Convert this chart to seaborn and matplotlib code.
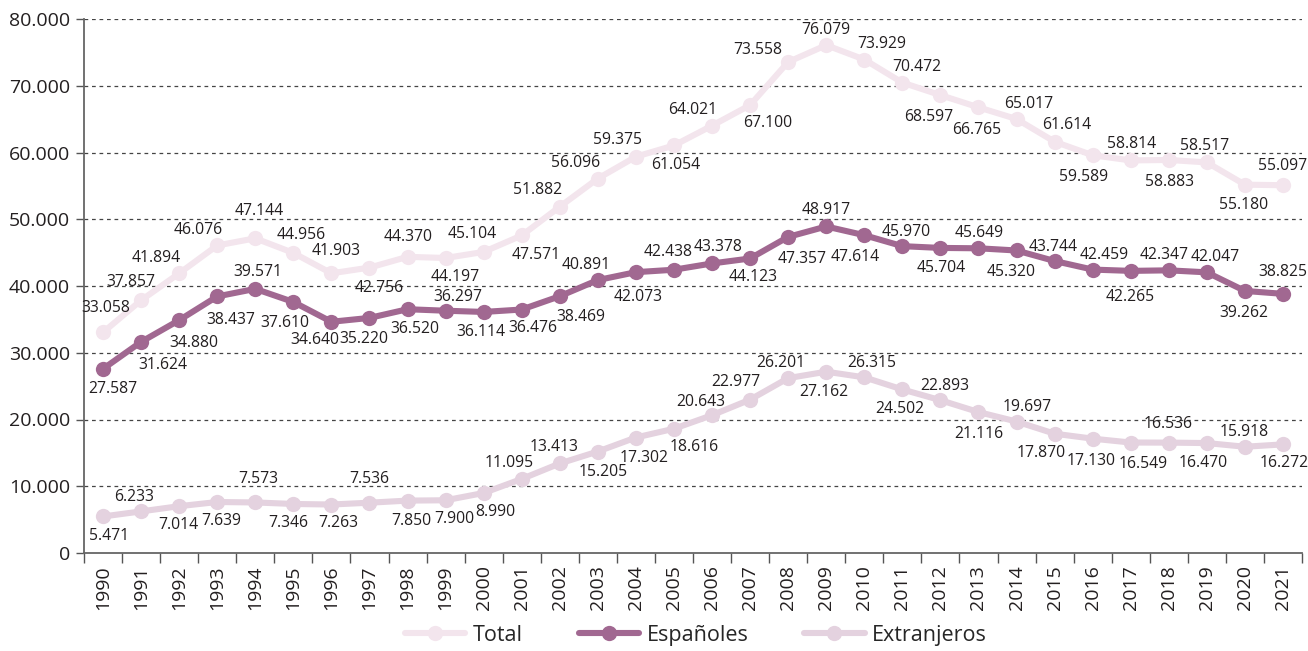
import numpy as np
import pandas as pd
import matplotlib
matplotlib.use("Agg")
import matplotlib.pyplot as plt
import seaborn as sns
from matplotlib.ticker import FuncFormatter, FixedLocator

# Years and series values (persons)
years = list(range(1990, 2022))

total = [33058, 37857, 41894, 46076, 47144, 44956, 41903, 42756, 44370, 44197,
         45104, 47571, 51882, 56096, 59375, 61054, 64021, 67100, 73558, 76079,
         73929, 70472, 68597, 66765, 65017, 61614, 59589, 58814, 58883, 58517,
         55180, 55097]

espanoles = [27587, 31624, 34880, 38437, 39571, 37610, 34640, 35220, 36520, 36297,
             36114, 36476, 38469, 40891, 42073, 42438, 43378, 44123, 47357, 48917,
             47614, 45970, 45704, 45649, 45320, 43744, 42459, 42265, 42347, 42047,
             39262, 38825]

extranjeros = [5471, 6233, 7014, 7639, 7573, 7346, 7263, 7536, 7850, 7900,
               8990, 11095, 13413, 15205, 17302, 18616, 20643, 22977, 26201, 27162,
               26315, 24502, 22893, 21116, 19697, 17870, 17130, 16549, 16536, 16470,
               15918, 16272]

series_names = ["Total", "Españoles", "Extranjeros"]
y_ticks = [0, 10000, 20000, 30000, 40000, 50000, 60000, 70000, 80000]

# Label placement (pixel offsets: dx, dy with dy measured downward)
label_offsets = {
    "Total": [(3, -24), (-10, -18), (-23, -15), (-19, -15), (4, -27), (8, -18),
              (5, -22), (10, 20), (1, -20), (10, 19), (-11, -18), (14, 20),
              (-22, -17), (-22, -16), (-18, -17), (2, 20), (-19, -16), (18, 18),
              (-30, -12), (0, -15), (17, -16), (14, -16), (-12, 22), (-2, 23),
              (12, -15), (12, -17), (-9, 22), (1, -16), (1, 22), (-2, -16),
              (-1, 20), (0, -19)],
    "Españoles": [(10, 20), (22, 23), (15, 23), (14, 24), (3, -17), (-9, 21),
                  (-17, 18), (-6, 21), (7, 20), (12, -14), (-3, 20), (11, 18),
                  (21, 21), (-12, -15), (2, 25), (-6, -18), (6, -16), (3, 19),
                  (14, 22), (0, -16), (-9, 22), (4, -14), (1, 20), (1, -15),
                  (-5, 22), (-1, -14), (12, -15), (-1, 26), (-5, -15), (8, -15),
                  (-1, 22), (0, -22)],
    "Extranjeros": [(6, 20), (-7, -14), (-1, 19), (4, 19), (3, -23), (-5, 19),
                    (7, 18), (0, -24), (4, 20), (9, 19), (12, 19), (-13, -16),
                    (-6, -16), (5, 20), (8, 20), (20, 18), (-11, -13), (-14, -18),
                    (-7, -15), (-2, 20), (7, -14), (-3, 20), (4, -14), (0, 22),
                    (11, -15), (-13, 19), (-2, 22), (12, 21), (-1, -19), (-4, 20),
                    (-1, -15), (1, 19)],
}

palette = {"Total": "#f3e5ed", "Españoles": "#a16891", "Extranjeros": "#e4d2df"}


def es_thousands(v):
    return f"{int(round(v)):,}".replace(",", ".")


values = {"Total": total, "Españoles": espanoles, "Extranjeros": extranjeros}
idx = np.arange(len(years))
df = pd.concat(
    [pd.DataFrame({"pos": idx, "valor": values[n], "serie": n}) for n in series_names],
    ignore_index=True,
)

sns.set_theme(style="white")
plt.rcParams["font.family"] = ["Open Sans", "DejaVu Sans"]

fig = plt.figure(figsize=(13.08, 6.51), dpi=100)
ax = fig.add_axes([84 / 1308, 1 - 553 / 651, (1302 - 84) / 1308, (553 - 19) / 651])

sns.lineplot(
    data=df, x="pos", y="valor", hue="serie", hue_order=series_names,
    palette=palette, marker="o", markersize=11, linewidth=4.4,
    markeredgewidth=0, ax=ax, legend=False, zorder=3,
)

# Value labels
for name in series_names:
    for i, v in enumerate(values[name]):
        dx, dy = label_offsets[name][i]
        ax.annotate(es_thousands(v), xy=(i, v), xytext=(dx, -dy),
                    textcoords="offset pixels", ha="center", va="center",
                    fontsize=11.3, color="#231f20", zorder=5)

# Axes
ax.set_xlim(-0.5, len(years) - 0.5)
ax.set_ylim(0, 80000)
ax.set_yticks(y_ticks)
ax.yaxis.set_major_formatter(FuncFormatter(lambda v, p: es_thousands(v)))
ax.tick_params(axis="y", labelsize=14, length=6, width=1, color="#555555",
               labelcolor="#231f20", pad=4, left=True)

ax.xaxis.set_major_locator(FixedLocator(np.arange(len(years) + 1) - 0.5))
ax.xaxis.set_minor_locator(FixedLocator(idx))
ax.set_xticklabels([], minor=False)
ax.set_xticklabels([str(y) for y in years], minor=True, rotation=90)
ax.tick_params(axis="x", which="major", length=7, width=1, color="#555555", bottom=True)
ax.tick_params(axis="x", which="minor", length=0, labelsize=14,
               labelcolor="#231f20", pad=9)

ax.set_xlabel("")
ax.set_ylabel("")
for yv in y_ticks[1:]:
    ax.axhline(yv, color="#444444", lw=0.9, ls=(0, (3, 3)), zorder=1)
sns.despine(ax=ax, top=True, right=True)
for s in ("left", "bottom"):
    ax.spines[s].set_color("#666666")
    ax.spines[s].set_linewidth(1.3)

# Legend
handles = [
    plt.Line2D([0], [0], color=palette[n], lw=4.4, marker="o", markersize=11,
               markeredgewidth=0)
    for n in series_names
]
fig.legend(handles, series_names, loc="center", bbox_to_anchor=(0.532, 0.024),
           ncol=3, frameon=False, fontsize=15.5, handlelength=2.8,
           columnspacing=2.6, handletextpad=0.35, borderpad=0.1)

fig.savefig("out.png", dpi=100)
